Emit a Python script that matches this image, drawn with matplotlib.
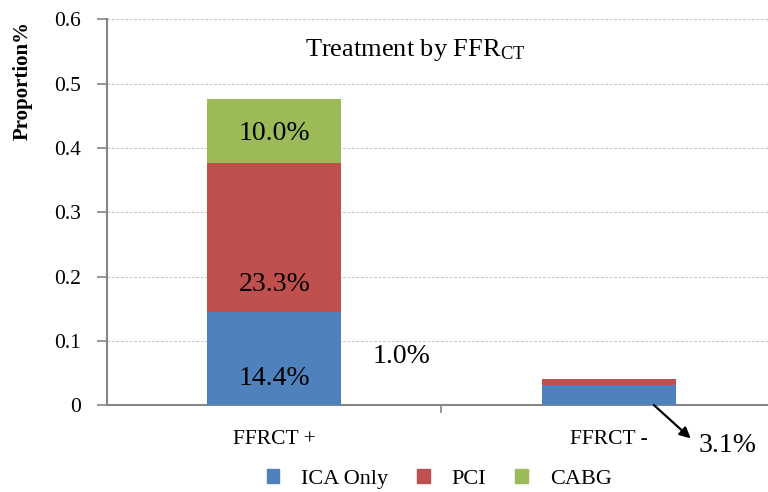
import numpy as np
import matplotlib
matplotlib.use("Agg")
import matplotlib.pyplot as plt
from matplotlib.patches import Patch

plt.rcParams['font.family'] = ['Liberation Serif', 'DejaVu Serif']
plt.rcParams['mathtext.default'] = 'regular'

categories = ['FFRCT +', 'FFRCT -']
ica_only = [0.144, 0.031]
pci = [0.233, 0.010]
cabg = [0.100, 0.0]

series_names = ['ICA Only', 'PCI', 'CABG']
colors = ['#4F81BD', '#C0504D', '#9BBB59']

# label text and where it sits (data coords)
labels_plus = ['14.4%', '23.3%', '10.0%']
labels_plus_y = [0.042, 0.188, 0.422]

fig = plt.figure(figsize=(7.68, 4.92), dpi=100)
ax = fig.add_axes([0.1393, 0.1768, 0.8711, 0.7836])

x = np.arange(len(categories))
w = 0.4
bottom = np.zeros(len(categories))
for vals, col in zip([ica_only, pci, cabg], colors):
    ax.bar(x, vals, w, bottom=bottom, color=col, zorder=3)
    bottom += np.array(vals)

ax.set_xlim(-0.5, 1.5)
ax.set_ylim(0, 0.6)
ax.set_yticks(np.arange(0, 0.61, 0.1))
ax.set_yticklabels(['0', '0.1', '0.2', '0.3', '0.4', '0.5', '0.6'])
ax.yaxis.grid(True, color='#C8C8C8', linestyle=(0, (2.5, 1.5)), linewidth=0.8, zorder=0)

ax.set_xticks(x)
ax.set_xticklabels(categories)
ax.set_xticks([0.5], minor=True)
ax.tick_params(axis='x', which='major', length=0, pad=18, labelsize=15.5)
ax.tick_params(axis='x', which='minor', length=6, color='#868686', width=1.2)
ax.tick_params(axis='y', length=7, color='#868686', width=1.2, labelsize=15.5, pad=12)

for s in ['top', 'right']:
    ax.spines[s].set_visible(False)
for s in ['left', 'bottom']:
    ax.spines[s].set_color('#868686')
    ax.spines[s].set_linewidth(1.5)

for txt, yy in zip(labels_plus, labels_plus_y):
    ax.text(x[0], yy, txt, ha='center', va='center', fontsize=20, zorder=4)

ax.text(0.38, 0.075, '1.0%', ha='center', va='center', fontsize=20)
ax.annotate('', xy=(1.245, -0.052), xytext=(1.135, 0.0), annotation_clip=False,
            arrowprops=dict(arrowstyle='-|>', color='black', lw=1.6,
                            shrinkA=0, shrinkB=0, mutation_scale=16))
ax.text(1.355, -0.063, '3.1%', ha='center', va='center', fontsize=20, clip_on=False)

ax.text(0.46, 0.92, 'Treatment by FFR$_{CT}$', transform=ax.transAxes,
        ha='center', va='center', fontsize=19)

fig.text(0.029, 1 - 80 / 492, 'Proportion%', rotation=90, ha='center', va='center',
         fontsize=15, fontweight='bold')

handles = [Patch(color=c) for c in colors]
fig.legend(handles, series_names, loc='center', bbox_to_anchor=(0.572, 0.026),
           ncol=3, frameon=False, fontsize=16, handlelength=0.55, handleheight=0.55,
           columnspacing=1.3, handletextpad=1.0, borderpad=0.2)

fig.savefig('out.png', dpi=100)
